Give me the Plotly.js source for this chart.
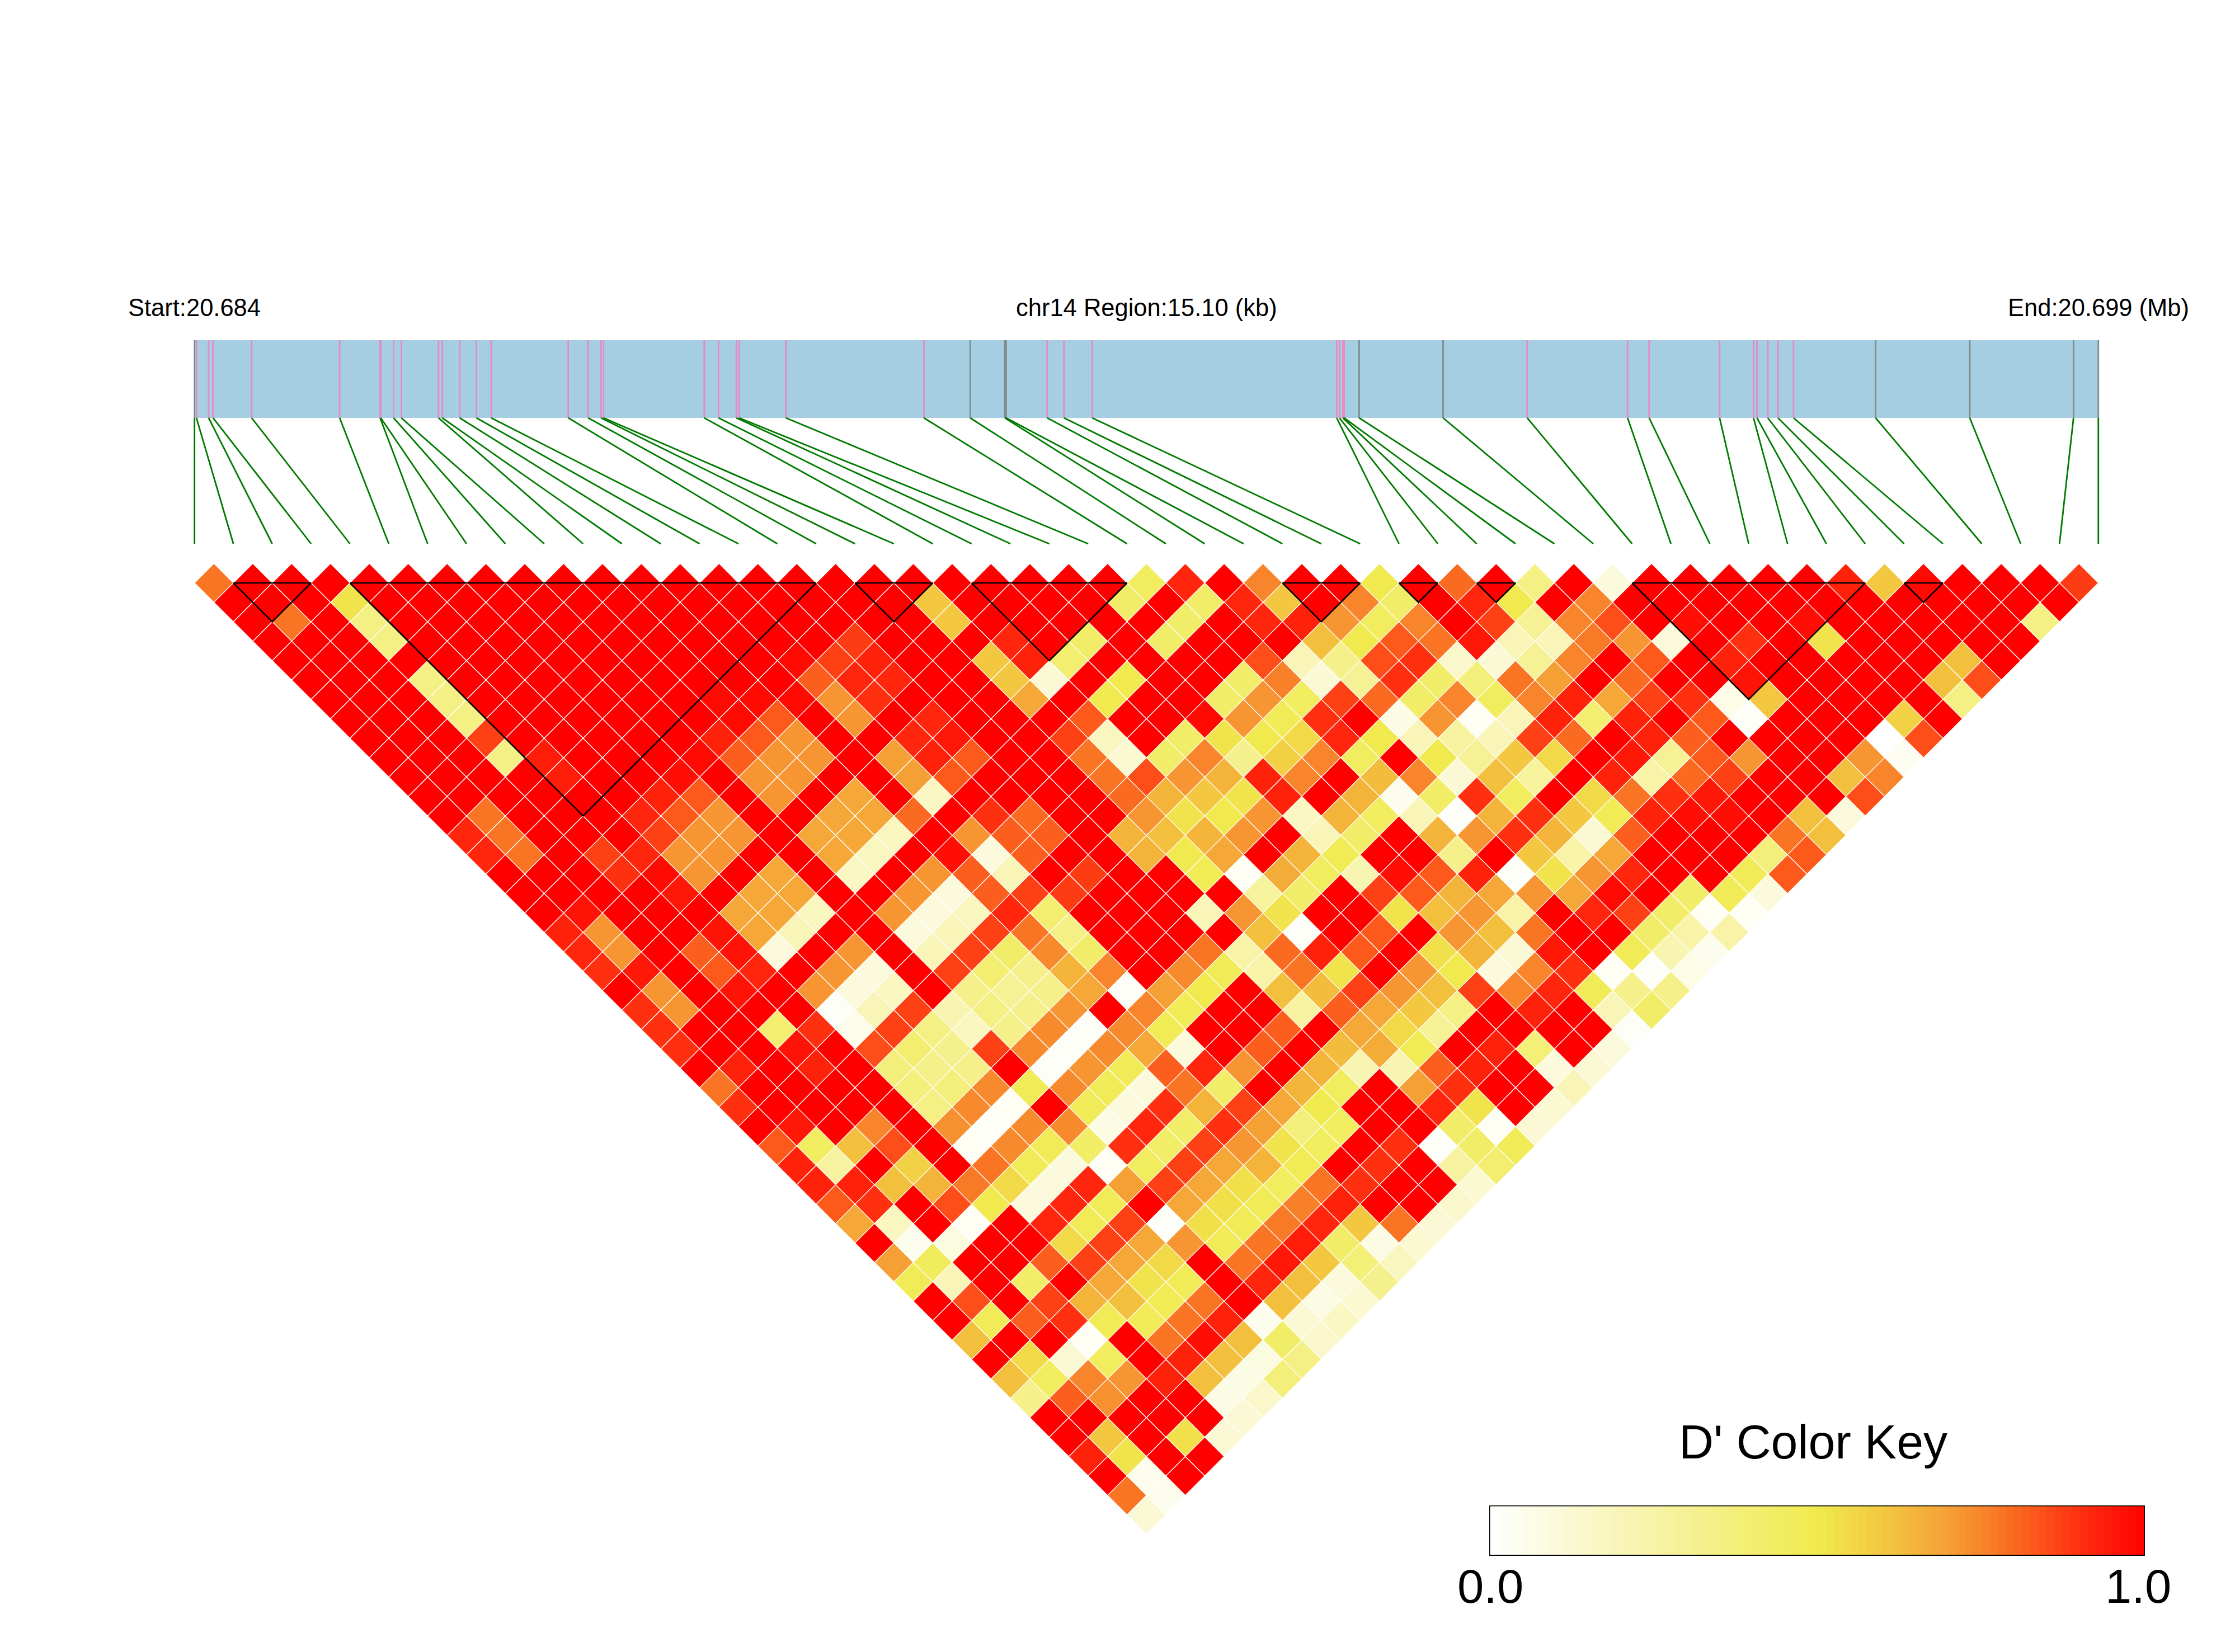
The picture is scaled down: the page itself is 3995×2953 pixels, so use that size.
<!DOCTYPE html>
<html>
<head>
<meta charset="utf-8">
<script src="https://cdn.plot.ly/plotly-3.0.1.min.js"></script>
<style>html,body{margin:0;padding:0;background:#fff}</style>
</head>
<body>
<div id="chart" style="width:3995px;height:2953px"></div>
<script>
// SNP positions along the region (kb from the start)
const regionKb = 15.10;
const snpKb = [0,0.015,0.112,0.147,0.453,1.151,1.472,1.477,1.579,1.640,1.935,1.965,2.103,2.236,2.353,2.964,3.122,3.224,3.244,4.043,4.156,4.298,4.319,4.690,5.785,6.152,6.427,6.437,6.763,6.896,7.120,9.059,9.081,9.108,9.118,9.237,9.903,10.570,11.366,11.537,12.096,12.365,12.392,12.478,12.559,12.682,13.333,14.080,14.903,15.10];
// SNPs whose tick in the gene band is grey rather than pink
const greySnps = [0,25,26,27,35,36,46,47,48,49];
// LD blocks: first and last SNP of each outlined block
const blockStart = [1,4,17,20,28,31,33,37,44];
const blockEnd   = [3,16,19,24,30,32,34,43,45];

// D' x 100, one array per SNP lag
const lag01=[78,100,100,100,100,100,100,100,100,100,100,100,100,100,100,100,100,100,100,100,100,100,100,100,45,92,100,75,100,100,50,100,80,100,35,100,10,100,100,100,100,100,93,60,98,100,100,100,88];
const lag02=[100,100,100,52,100,100,100,100,100,100,100,100,100,100,100,100,100,100,60,100,100,100,100,42,100,42,92,60,100,75,42,100,92,50,100,75,100,100,100,100,100,100,100,100,100,100,100,100];
const lag03=[100,78,100,35,100,100,100,100,100,100,100,100,100,100,100,100,100,100,60,100,100,100,100,100,42,100,92,93,72,45,75,100,87,30,75,85,100,97,100,100,97,100,100,100,100,100,35];
const lag04=[100,100,100,35,100,100,100,100,100,100,100,100,100,100,100,88,100,100,100,92,100,42,100,42,100,100,100,62,50,83,78,95,20,20,77,72,10,100,90,100,52,100,100,100,100,100];
const lag05=[100,100,100,100,100,100,100,100,100,100,100,100,100,98,87,93,100,100,60,93,40,100,100,100,100,85,20,33,85,90,15,12,30,75,100,83,100,93,100,100,100,100,100,62,100];
const lag06=[100,100,100,35,100,100,100,100,100,100,100,100,100,82,92,92,100,100,60,12,100,50,100,100,42,76,12,30,90,42,37,78,70,100,80,100,100,96,100,100,100,100,62,85];
const lag07=[100,100,100,35,100,100,100,100,100,100,98,98,98,72,90,100,100,100,68,100,50,100,100,43,72,45,87,80,43,75,45,75,93,68,87,90,7,60,100,100,100,100,35];
const lag08=[100,100,100,35,100,100,100,100,100,100,98,83,100,72,100,92,100,100,100,83,100,100,98,72,47,90,100,8,72,3,20,93,40,93,100,83,2,100,100,100,57,100];
const lag09=[100,100,100,87,100,100,100,100,100,93,83,72,100,100,92,95,100,100,87,18,100,43,52,50,55,92,50,20,27,20,87,80,100,93,82,100,100,100,100,0,85];
const lag10=[100,100,100,35,94,100,100,100,98,82,72,72,100,70,93,83,100,100,78,13,42,75,32,58,75,45,100,50,30,60,55,100,95,30,83,72,100,100,72,4];
const lag11=[100,100,100,100,94,100,100,97,100,72,72,100,100,70,83,100,100,100,78,85,72,65,93,75,100,63,75,12,62,28,100,93,25,80,87,100,100,62,75];
const lag12=[100,100,100,100,100,100,93,83,100,72,100,68,100,17,100,100,100,100,80,65,60,52,93,100,65,5,43,90,45,100,55,78,90,95,100,100,100,85];
const lag13=[100,78,100,100,100,92,83,72,100,100,68,68,80,100,90,80,100,100,72,52,50,72,17,65,45,20,2,65,90,60,48,93,97,97,100,62,10];
const lag14=[92,78,100,100,100,87,72,72,100,68,68,18,100,72,82,82,100,65,62,65,72,100,20,42,100,65,72,90,65,12,82,100,100,100,78,62];
const lag15=[92,78,100,87,92,72,72,100,100,68,18,100,97,10,82,100,100,65,50,68,100,65,48,100,100,33,100,60,25,68,100,100,100,37,83];
const lag16=[100,100,100,90,98,72,100,68,100,17,100,72,82,20,100,88,100,100,48,3,67,45,22,97,83,93,2,52,72,92,100,100,47,83];
const lag17=[100,100,100,100,95,100,68,68,100,100,72,10,82,87,88,100,100,100,100,28,42,100,87,83,65,68,72,68,98,100,42,47,10];
const lag18=[100,96,100,100,100,68,68,18,100,72,10,18,92,40,100,100,100,20,72,52,100,100,52,62,72,25,100,92,87,42,3,3];
const lag19=[93,72,100,100,96,68,20,100,100,10,20,87,78,35,100,100,100,100,62,2,100,83,100,72,62,78,100,100,42,25,25];
const lag20=[92,72,100,82,96,10,100,72,100,20,87,42,74,42,100,100,78,25,80,93,83,100,53,65,12,95,100,47,22,5];
const lag21=[90,95,100,83,92,100,72,10,100,87,40,33,65,75,100,74,47,25,78,52,100,72,50,10,75,90,3,2,7];
const lag22=[100,72,100,96,100,72,10,18,100,33,30,33,68,2,70,50,100,62,63,87,72,62,87,75,92,47,33,33];
const lag23=[90,72,100,100,100,2,20,87,22,35,33,72,100,75,48,100,100,27,82,68,60,35,100,93,100,20,42];
const lag24=[90,100,100,40,90,6,87,35,18,33,74,2,74,48,100,100,82,100,68,55,30,100,100,100,100,2];
const lag25=[90,100,100,96,100,85,40,32,87,74,2,74,68,10,100,82,100,63,67,48,100,93,38,100,10];
const lag26=[100,93,100,93,100,37,33,33,100,2,72,47,82,92,72,100,65,22,22,82,93,100,10,12];
const lag27=[78,100,100,100,100,37,37,74,47,74,47,10,78,42,100,65,45,100,70,90,100,100,20];
const lag28=[90,100,100,100,100,35,74,3,100,47,10,90,65,87,68,50,100,100,92,52,100,13];
const lag29=[100,95,100,75,100,73,2,74,74,8,92,43,90,70,37,45,100,100,42,3,12];
const lag30=[83,45,62,85,100,3,74,47,43,90,43,87,72,52,45,100,90,2,42,47];
const lag31=[93,27,100,57,100,78,47,10,3,45,87,68,65,48,100,90,100,27,40];
const lag32=[93,93,62,65,77,55,10,92,70,87,68,53,45,78,90,100,100,13];
const lag33=[83,90,100,85,50,10,92,47,100,68,53,47,76,93,100,100,15];
const lag34=[68,18,100,3,100,92,47,87,2,53,47,77,92,60,78,12];
const lag35=[100,5,9,100,100,55,87,68,72,47,78,94,43,8,13];
const lag36=[70,46,100,100,82,87,68,55,100,78,95,60,38,18];
const lag37=[47,20,100,43,100,68,52,47,100,92,62,10,32];
const lag38=[100,85,100,87,65,62,48,78,100,62,8,13];
const lag39=[100,47,82,90,48,47,78,93,5,12,17];
const lag40=[62,100,100,3,100,78,97,62,42,15];
const lag41=[100,55,12,45,100,93,62,9,35];
const lag42=[62,45,75,72,93,62,8,37];
const lag43=[33,82,73,100,100,8,15];
const lag44=[100,100,100,100,100,12];
const lag45=[100,60,100,53,12];
const lag46=[93,52,100,100];
const lag47=[100,5,100];
const lag48=[78,5];
const lag49=[12];
const ldRows=[lag01,lag02,lag03,lag04,lag05,lag06,lag07,lag08,lag09,lag10,lag11,lag12,lag13,lag14,lag15,lag16,lag17,lag18,lag19,lag20,lag21,lag22,lag23,lag24,lag25,lag26,lag27,lag28,lag29,lag30,lag31,lag32,lag33,lag34,lag35,lag36,lag37,lag38,lag39,lag40,lag41,lag42,lag43,lag44,lag45,lag46,lag47,lag48,lag49];

// colour key
const keyTitle = "D' Color Key";
const keyLabels = ["0.0","1.0"];
const rampValues = [0,0.1,0.2,0.3,0.4,0.5,0.6,0.7,0.8,0.9,1];
const rampColors = ["#FFFFFF","#FBFADC","#F9F5B8","#F6F195","#F3EE70","#F0EA4E","#F3C840","#F5A035","#FA6A20","#FF3010","#FF0000"];

// header texts
const startLabel = "Start:20.684";
const midLabel = "chr14 Region:15.10 (kb)";
const endLabel = "End:20.699 (Mb)";

const badRows = ldRows.map((r,i)=>[i+1,r.length,49-i]).filter(a=>a[1]!==a[2]);
if (badRows.length) throw new Error("row length mismatch: "+JSON.stringify(badRows));

// page geometry -> axis units (x: SNP index, y: lag row)
const X0=347.7, DX=69.45, Y0=1042, DY=34.7, W=3995, H=2953;
const rowY = px => (px-Y0)/DY;
const kbToIndex = kb => kb/regionKb*(snpKb.length-1);

function hex(c){return [1,3,5].map(i=>parseInt(c.substr(i,2),16));}
function colorFor(v){
  for(let i=1;i<rampValues.length;i++){
    if(v<=rampValues[i]){
      const t=(v-rampValues[i-1])/(rampValues[i]-rampValues[i-1]);
      const a=hex(rampColors[i-1]),b=hex(rampColors[i]);
      return "rgb("+a.map((p,n)=>Math.round(p+(b[n]-p)*t)).join(",")+")";
    }
  }
  return rampColors[rampColors.length-1];
}

const traces=[];
// LD cells, one polygon trace per distinct value
const groups={};
ldRows.forEach((row,r)=>{
  row.forEach((val,i)=>{
    const cx=i+(r+1)/2;
    const g=groups[val]||(groups[val]={x:[],y:[]});
    g.x.push(cx-0.5,cx,cx+0.5,cx,cx-0.5,null);
    g.y.push(r,r-1,r,r+1,r,null);
  });
});
Object.keys(groups).forEach(k=>{
  traces.push({type:"scatter",mode:"lines",x:groups[k].x,y:groups[k].y,fill:"toself",
    fillcolor:colorFor(+k/100),line:{color:"#FFFFFF",width:1.2},hoverinfo:"skip",showlegend:false,xaxis:"x",yaxis:"y"});
});
// LD block outlines
const bx=[],by=[];
blockStart.forEach((a,n)=>{
  const b=blockEnd[n];
  bx.push(a,b,(a+b)/2,a,null);
  by.push(0,0,b-a,0,null);
});
traces.push({type:"scatter",mode:"lines",x:bx,y:by,line:{color:"#000000",width:2.6},hoverinfo:"skip",showlegend:false,xaxis:"x",yaxis:"y"});

// gene band ticks and connectors
const bandTop=rowY(608), bandBottom=rowY(747), linkEnd=rowY(972);
const pink={x:[],y:[]}, grey={x:[],y:[]}, green={x:[],y:[]};
snpKb.forEach((kb,i)=>{
  const px=kbToIndex(kb);
  const t=greySnps.includes(i)?grey:pink;
  t.x.push(px,px,null); t.y.push(bandTop,bandBottom,null);
  green.x.push(px,i,null); green.y.push(bandBottom,linkEnd,null);
});
traces.push({type:"scatter",mode:"lines",x:pink.x,y:pink.y,line:{color:"#E78AC3",width:2.8},hoverinfo:"skip",showlegend:false,xaxis:"x",yaxis:"y"});
traces.push({type:"scatter",mode:"lines",x:grey.x,y:grey.y,line:{color:"#7F8C8D",width:2.8},hoverinfo:"skip",showlegend:false,xaxis:"x",yaxis:"y"});
traces.push({type:"scatter",mode:"lines",x:green.x,y:green.y,line:{color:"#007A00",width:2.8},hoverinfo:"skip",showlegend:false,xaxis:"x",yaxis:"y"});

// colour key strip
const keySteps=80, keyX=[], keyZ=[];
for(let i=0;i<keySteps;i++){keyX.push((i+0.5)/keySteps);keyZ.push((i+0.5)/keySteps);}
traces.push({type:"heatmap",x:keyX,y:[0],z:[keyZ],zmin:0,zmax:1,showscale:false,hoverinfo:"skip",
  colorscale:rampValues.map((v,i)=>[v,rampColors[i]]),xaxis:"x2",yaxis:"y2"});

const hidden={visible:false,showgrid:false,zeroline:false,fixedrange:true};
const KL=2662,KR=3834,KT=2691,KB=2781;
const layout={
  width:W,height:H,margin:{l:0,r:0,t:0,b:0,pad:0},paper_bgcolor:"#fff",plot_bgcolor:"#fff",showlegend:false,
  font:{family:"Liberation Sans, Arial, sans-serif",color:"#000"},
  xaxis:Object.assign({},hidden,{domain:[0,1],range:[(0-X0)/DX,(W-X0)/DX]}),
  yaxis:Object.assign({},hidden,{domain:[0,1],range:[(H-Y0)/DY,(0-Y0)/DY]}),
  xaxis2:Object.assign({},hidden,{domain:[KL/W,KR/W],range:[0,1],anchor:"y2"}),
  yaxis2:Object.assign({},hidden,{domain:[(H-KB)/H,(H-KT)/H],range:[-0.5,0.5],anchor:"x2"}),
  shapes:[
    {type:"rect",layer:"below",xref:"x",yref:"y",x0:0,x1:snpKb.length-1,y0:bandTop,y1:bandBottom,fillcolor:"#A6CEE3",line:{width:0}},
    {type:"rect",layer:"above",xref:"x2",yref:"y2",x0:0,x1:1,y0:-0.5,y1:0.5,fillcolor:"rgba(0,0,0,0)",line:{color:"#000",width:3}}
  ],
  annotations:[
    {text:startLabel,xref:"x",yref:"y",x:0,y:rowY(550),xanchor:"center",yanchor:"middle",showarrow:false,font:{size:43.5}},
    {text:midLabel,xref:"x",yref:"y",x:24.5,y:rowY(550),xanchor:"center",yanchor:"middle",showarrow:false,font:{size:43.5}},
    {text:endLabel,xref:"x",yref:"y",x:49,y:rowY(550),xanchor:"center",yanchor:"middle",showarrow:false,font:{size:43.5}},
    {text:keyTitle,xref:"paper",yref:"y",x:3241/W,y:rowY(2577),xanchor:"center",yanchor:"middle",showarrow:false,font:{size:86}},
    {text:keyLabels[0],xref:"x2",yref:"y",x:0.002,y:rowY(2835),xanchor:"center",yanchor:"middle",showarrow:false,font:{size:85}},
    {text:keyLabels[1],xref:"x2",yref:"y",x:0.99,y:rowY(2835),xanchor:"center",yanchor:"middle",showarrow:false,font:{size:85}}
  ]
};
Plotly.newPlot("chart",traces,layout,{displayModeBar:false,staticPlot:true});
</script>
</body>
</html>
